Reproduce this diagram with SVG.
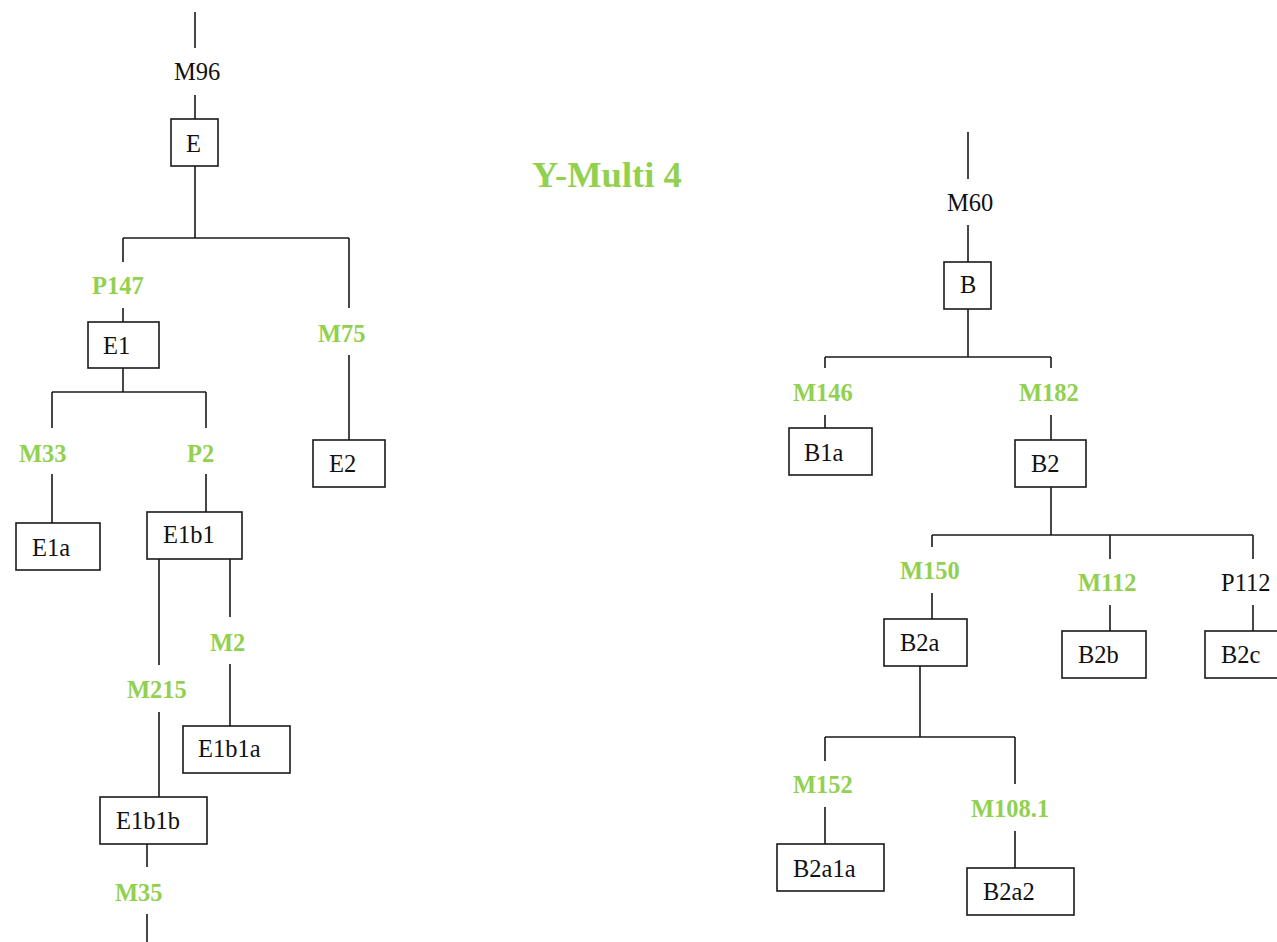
<svg xmlns="http://www.w3.org/2000/svg" width="1277" height="942" viewBox="0 0 1277 942">
  <style>
    .bg { fill: #ffffff; }
    .box { fill: #ffffff; stroke: #1a1a1a; stroke-width: 1.6; }
    .wire { fill: none; stroke: #1a1a1a; stroke-width: 1.6; }
    .name { font-family: "Liberation Serif", "Times New Roman", serif; font-size: 24.5px; fill: #111111; }
    .snp { font-family: "Liberation Serif", "Times New Roman", serif; font-size: 24.5px; font-weight: bold; fill: #92D050; }
    .snp-plain { font-family: "Liberation Serif", "Times New Roman", serif; font-size: 24.5px; fill: #111111; }
    .title { font-family: "Liberation Serif", "Times New Roman", serif; font-size: 36.5px; font-weight: bold; fill: #92D050; }
  </style>

  <rect class="bg" x="0" y="0" width="1277" height="942"/>

  <text class="title" x="532" y="187">Y-Multi 4</text>

  <!-- connectors and mutation labels -->
  <g id="connectors">
    <!-- haplogroup E tree -->
    <path class="wire" d="M195 12 V48 M195 95 V119 M195 166 V238 M123 238 H349 M123 238 V262 M123 308 V322 M349 238 V308 M349 355 V440"/>
    <path class="wire" d="M123 368 V392 M52 392 H206 M52 392 V428 M206 392 V428 M52 474 V523 M206 474 V512"/>
    <path class="wire" d="M159 559 V665 M159 712 V797 M230 559 V617 M230 664 V726 M147 844 V867 M147 914 V942"/>
    <text class="snp-plain" x="174" y="80">M96</text>
    <text class="snp" x="92" y="294">P147</text>
    <text class="snp" x="318" y="342">M75</text>
    <text class="snp" x="19" y="462">M33</text>
    <text class="snp" x="187" y="462">P2</text>
    <text class="snp" x="210" y="651">M2</text>
    <text class="snp" x="127" y="698">M215</text>
    <text class="snp" x="115" y="901">M35</text>

    <!-- haplogroup B tree -->
    <path class="wire" d="M968 132 V179 M968 225 V262 M968 309 V357 M825 357 H1051 M825 357 V368 M1051 357 V368 M825 415 V428 M1051 415 V440"/>
    <path class="wire" d="M1051 487 V535 M932 535 H1253 M932 535 V547 M1110 535 V559 M1253 535 V559 M932 593 V619 M1110 605 V631 M1253 605 V631"/>
    <path class="wire" d="M920 666 V737 M825 737 H1015 M825 737 V761 M1015 737 V784 M825 807 V844 M1015 831 V868"/>
    <text class="snp-plain" x="947" y="211">M60</text>
    <text class="snp" x="793" y="401">M146</text>
    <text class="snp" x="1019" y="401">M182</text>
    <text class="snp" x="900" y="579">M150</text>
    <text class="snp" x="1078" y="591">M112</text>
    <text class="snp-plain" x="1221" y="591">P112</text>
    <text class="snp" x="793" y="793">M152</text>
    <text class="snp" x="971" y="817">M108.1</text>
  </g>

  <!-- haplogroup E nodes -->
  <g id="node-E">
    <rect class="box" x="171" y="119" width="47" height="47"/>
    <text class="name" x="186" y="152">E</text>
  </g>
  <g id="node-E1">
    <rect class="box" x="88" y="322" width="71" height="46"/>
    <text class="name" x="103" y="354">E1</text>
  </g>
  <g id="node-E2">
    <rect class="box" x="313" y="440" width="72" height="47"/>
    <text class="name" x="329" y="472">E2</text>
  </g>
  <g id="node-E1a">
    <rect class="box" x="16" y="523" width="84" height="47"/>
    <text class="name" x="32" y="556">E1a</text>
  </g>
  <g id="node-E1b1">
    <rect class="box" x="147" y="512" width="95" height="47"/>
    <text class="name" x="163" y="543">E1b1</text>
  </g>
  <g id="node-E1b1a">
    <rect class="box" x="183" y="726" width="107" height="47"/>
    <text class="name" x="198" y="757">E1b1a</text>
  </g>
  <g id="node-E1b1b">
    <rect class="box" x="100" y="797" width="107" height="47"/>
    <text class="name" x="116" y="829">E1b1b</text>
  </g>

  <!-- haplogroup B nodes -->
  <g id="node-B">
    <rect class="box" x="944" y="262" width="47" height="47"/>
    <text class="name" x="960" y="293">B</text>
  </g>
  <g id="node-B1a">
    <rect class="box" x="789" y="428" width="83" height="47"/>
    <text class="name" x="804" y="461">B1a</text>
  </g>
  <g id="node-B2">
    <rect class="box" x="1015" y="440" width="71" height="47"/>
    <text class="name" x="1031" y="472">B2</text>
  </g>
  <g id="node-B2a">
    <rect class="box" x="884" y="619" width="83" height="47"/>
    <text class="name" x="900" y="651">B2a</text>
  </g>
  <g id="node-B2b">
    <rect class="box" x="1062" y="631" width="84" height="47"/>
    <text class="name" x="1078" y="663">B2b</text>
  </g>
  <g id="node-B2c">
    <rect class="box" x="1205" y="631" width="84" height="47"/>
    <text class="name" x="1221" y="663">B2c</text>
  </g>
  <g id="node-B2a1a">
    <rect class="box" x="777" y="844" width="107" height="47"/>
    <text class="name" x="793" y="877">B2a1a</text>
  </g>
  <g id="node-B2a2">
    <rect class="box" x="967" y="868" width="107" height="47"/>
    <text class="name" x="983" y="900">B2a2</text>
  </g>
</svg>
